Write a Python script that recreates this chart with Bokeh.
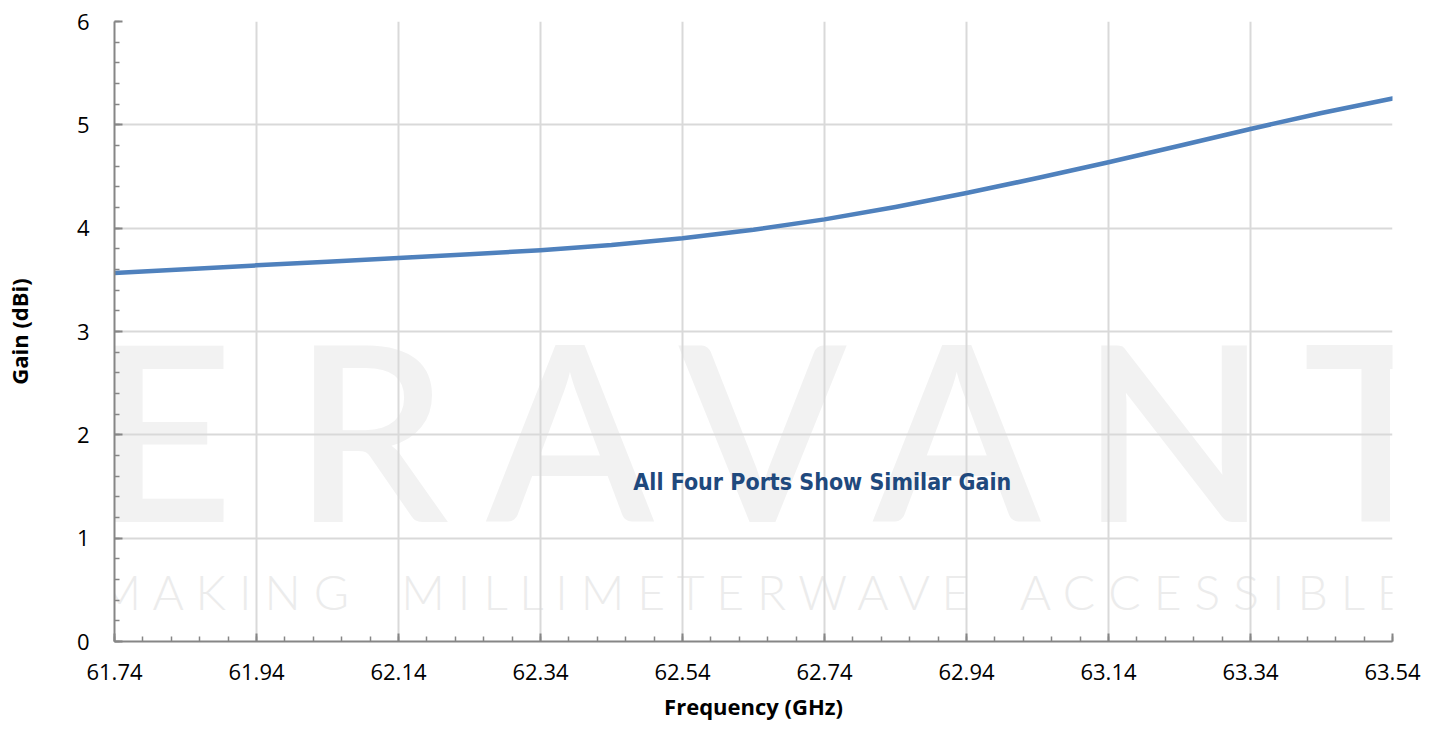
from bokeh.plotting import figure
from bokeh.models import Range1d, FixedTicker, PrintfTickFormatter, Label
from bokeh.embed import file_html
from bokeh.resources import INLINE

# ---- data ----
freq_ghz = [61.74, 61.84, 61.94, 62.04, 62.14, 62.24, 62.34, 62.44, 62.54, 62.64,
            62.74, 62.84, 62.94, 63.04, 63.14, 63.24, 63.34, 63.44, 63.54]
gain_dbi = [3.565, 3.603, 3.640, 3.676, 3.712, 3.748, 3.787, 3.837, 3.903, 3.985,
            4.085, 4.205, 4.340, 4.485, 4.638, 4.797, 4.960, 5.115, 5.255]

x_ticks = [61.74, 61.94, 62.14, 62.34, 62.54, 62.74, 62.94, 63.14, 63.34, 63.54]
y_ticks = [0, 1, 2, 3, 4, 5, 6]

x_label = "Frequency (GHz)"
y_label = "Gain (dBi)"
annotation_text = "All Four Ports Show Similar Gain"
watermark_letters = ["E", "R", "A", "V", "A", "N", "T"]
tagline_words = ["MAKING", "MILLIMETERWAVE", "ACCESSIBLE"]

X0, X1 = 61.74, 63.54
Y0, Y1 = 0, 6

p = figure(width=1440, height=731,
           x_range=Range1d(X0, X1), y_range=Range1d(Y0, Y1),
           output_backend="svg", toolbar_location=None,
           min_border_left=110, min_border_right=48,
           min_border_top=21, min_border_bottom=90)
p.outline_line_color = None
p.background_fill_color = "white"
p.border_fill_color = "white"

# frame geometry (pixels) used only to place the decorative watermark / note
FL, FR, FT, FB = 110, 1392, 21, 641
def dx(px):
    return X0 + (px - FL) * (X1 - X0) / (FR - FL)
def dy(py):
    return Y0 + (FB - py) * (Y1 - Y0) / (FB - FT)

# ---- watermark (below grid and line) ----
letter_centers_px = [159, 367, 567, 760, 955, 1173, 1375]
for ch, cx in zip(watermark_letters, letter_centers_px):
    p.add_layout(Label(x=dx(cx), y=dy(517 - 90), text=ch,
                       text_font="'Lato Semibold', Lato",
                       text_font_size="244px", text_color="#f2f2f2",
                       text_align="center", text_baseline="alphabetic",
                       level="image"))

nb = "\u00a0"
tagline = (nb * 4).join(nb.join(w) for w in tagline_words)
p.add_layout(Label(x=dx(93), y=dy(609 - 18), text=tagline,
                   text_font="'Lato Light', Lato", text_font_size="48px",
                   text_color="#ececec", text_align="left",
                   text_baseline="alphabetic", level="image"))

# ---- grid ----
p.xgrid.ticker = FixedTicker(ticks=x_ticks)
p.ygrid.ticker = FixedTicker(ticks=y_ticks)
for g in (p.xgrid, p.ygrid):
    g.grid_line_color = "#d9d9d9"
    g.grid_line_width = 2

# ---- data line ----
p.line(freq_ghz, gain_dbi, line_color="#4f81bd", line_width=4.5,
       line_join="round", line_cap="round")

# ---- annotation ----
p.add_layout(Label(x=dx(820), y=dy(490 - 9), text=annotation_text,
                   text_font="'DejaVu Sans Condensed', Roboto, sans-serif",
                   text_font_style="bold",
                   text_font_size="23px", text_color="#1f497d",
                   text_align="center", text_baseline="alphabetic"))

# ---- axes ----
x_minor = [round(X0 + 0.04 * i, 2) for i in range(46)]
y_minor = [round(0.2 * i, 1) for i in range(31)]
p.xaxis.ticker = FixedTicker(ticks=x_ticks, minor_ticks=x_minor)
p.yaxis.ticker = FixedTicker(ticks=y_ticks, minor_ticks=y_minor)
p.xaxis.formatter = PrintfTickFormatter(format="%.2f")
p.yaxis.formatter = PrintfTickFormatter(format="%d")

for ax in (p.xaxis[0], p.yaxis[0]):
    ax.axis_line_color = "#868686"
    ax.axis_line_width = 2
    ax.major_tick_line_color = "#868686"
    ax.major_tick_line_width = 2
    ax.minor_tick_line_color = "#868686"
    ax.minor_tick_line_width = 1.5
    ax.major_tick_in = 8
    ax.major_tick_out = 0
    ax.minor_tick_in = 5
    ax.minor_tick_out = 0
    ax.major_label_text_font = "Open Sans"
    ax.major_label_text_font_size = "22px"
    ax.major_label_text_color = "black"
    ax.axis_label_text_font = "Open Sans"
    ax.axis_label_text_font_style = "bold"
    ax.axis_label_text_font_size = "22px"
    ax.axis_label_text_color = "black"

p.xaxis.axis_label = x_label
p.yaxis.axis_label = y_label
p.xaxis.major_label_standoff = 22
p.xaxis.axis_label_standoff = 8
p.yaxis.major_label_standoff = 25
p.yaxis.axis_label_standoff = 40

open("out.html", "w").write(file_html(p, INLINE))
